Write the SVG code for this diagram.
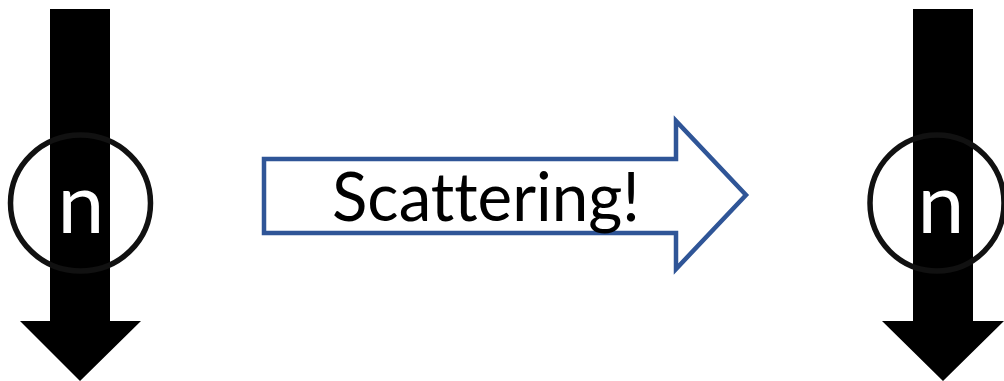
<svg xmlns="http://www.w3.org/2000/svg" width="1004" height="381" viewBox="0 0 1004 381">
<style>
.spin{fill:#000}
.ring{fill:none;stroke:#111;stroke-width:5.5}
.nlab{fill:#fff;font-family:Lato,"Liberation Sans",Arial,sans-serif;font-size:84px;text-anchor:middle}
.big{fill:#fff;stroke:#2F5597;stroke-width:4.5}
.lab{fill:#000;font-family:Lato,"Liberation Sans",Arial,sans-serif;font-size:67px;font-variant-ligatures:none;font-feature-settings:"liga" 0,"clig" 0}
</style>
<rect width="1004" height="381" fill="#fff"/>
<g id="neutron-left">
<polygon class="spin" points="50,9 110,9 110,321 141,321 80,381 20,321 50,321"/>
<ellipse class="ring" cx="80.5" cy="203" rx="70" ry="68"/>
<text class="nlab" x="81" y="233">n</text>
</g>
<g id="connectors">
<polygon class="big" points="264,159 676,159 676,121 746,195 676,269 676,233 264,233"/>
<text class="lab" x="332" y="221" textLength="308" lengthAdjust="spacingAndGlyphs">Scattering!</text>
</g>
<g id="neutron-right">
<polygon class="spin" points="913,9 973,9 973,321 1004,321 943,381 882,321 913,321"/>
<ellipse class="ring" cx="937" cy="203" rx="67" ry="68"/>
<text class="nlab" x="941" y="233">n</text>
</g>
</svg>
